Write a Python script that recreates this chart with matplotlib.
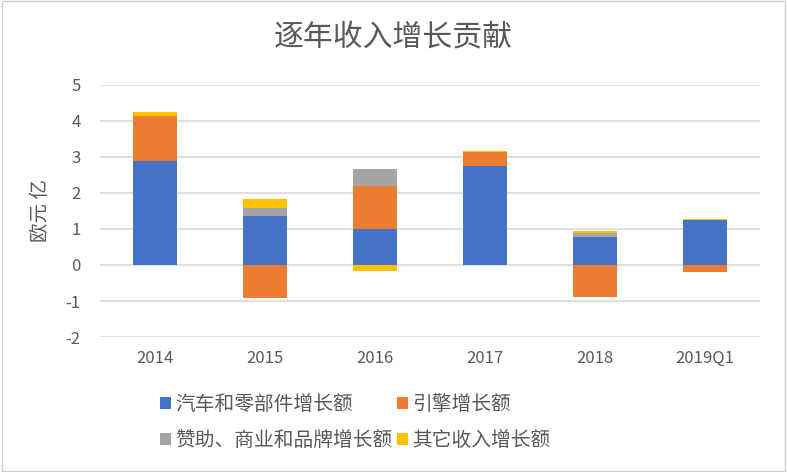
import numpy as np
import matplotlib.pyplot as plt

plt.rcParams['font.family'] = ['Noto Sans CJK SC', 'DejaVu Sans']
plt.rcParams['axes.unicode_minus'] = False

years = ['2014', '2015', '2016', '2017', '2018', '2019Q1']
series_names = ['汽车和零部件增长额', '引擎增长额', '赞助、商业和品牌增长额', '其它收入增长额']
auto_parts = [2.89, 1.36, 1.00, 2.74, 0.77, 1.24]
engines = [1.25, -0.93, 1.19, 0.40, -0.89, -0.19]
sponsorship = [0.00, 0.22, 0.47, 0.00, 0.13, 0.00]
other = [0.11, 0.26, -0.17, 0.02, 0.05, 0.05]
colors = ['#4472C4', '#ED7D31', '#A5A5A5', '#FFC000']


def main():
    fig = plt.figure(figsize=(7.87, 4.72), dpi=100)
    ax = fig.add_axes([0.127, 0.286, 0.839, 0.534])

    x = np.arange(len(years))
    pos_base = np.zeros(len(years))
    neg_base = np.zeros(len(years))
    bars = []
    for name, vals, c in zip(series_names, [auto_parts, engines, sponsorship, other], colors):
        v = np.array(vals)
        bottoms = np.where(v >= 0, pos_base, neg_base)
        b = ax.bar(x, v, 0.4, bottom=bottoms, color=c, label=name, zorder=3)
        bars.append(b)
        pos_base = pos_base + np.where(v >= 0, v, 0)
        neg_base = neg_base + np.where(v < 0, v, 0)

    ax.set_xlim(-0.5, len(years) - 0.5)
    ax.set_ylim(-2, 5)
    ax.set_yticks(range(-2, 6))
    ax.set_xticks(x)
    ax.set_xticklabels(years)
    ax.yaxis.grid(True, color='#D9D9D9', linewidth=1.2, zorder=0)
    for s in ax.spines.values():
        s.set_visible(False)
    ax.tick_params(length=0, labelsize=12, colors='#595959')
    ax.tick_params(axis='y', pad=14)
    ax.tick_params(axis='x', pad=9)

    fig.text(0.051, 0.553, '欧元 亿', rotation=90, ha='center', va='center',
             fontsize=14, color='#595959')
    fig.text(0.5, 0.92, '逐年收入增长贡献', ha='center', va='center',
             fontsize=21.5, color='#595959')

    # column-major order so rows read: auto, engines / sponsorship, other
    order = [0, 2, 1, 3]
    fig.legend([bars[i] for i in order], [series_names[i] for i in order], ncol=2,
               loc='center left', bbox_to_anchor=(0.203, 0.105),
               frameon=False, fontsize=14.2, labelcolor='#595959', handlelength=0.55,
               handleheight=0.55, handletextpad=0.25, columnspacing=0.2, labelspacing=0.72,
               borderaxespad=0, borderpad=0)

    border = plt.Rectangle((0.002, 0.002), 0.996, 0.996, transform=fig.transFigure,
                           fill=False, edgecolor='#D0D0D0', linewidth=1)
    fig.patches.append(border)

    fig.savefig('out.png', dpi=100)


if __name__ == '__main__':
    main()
